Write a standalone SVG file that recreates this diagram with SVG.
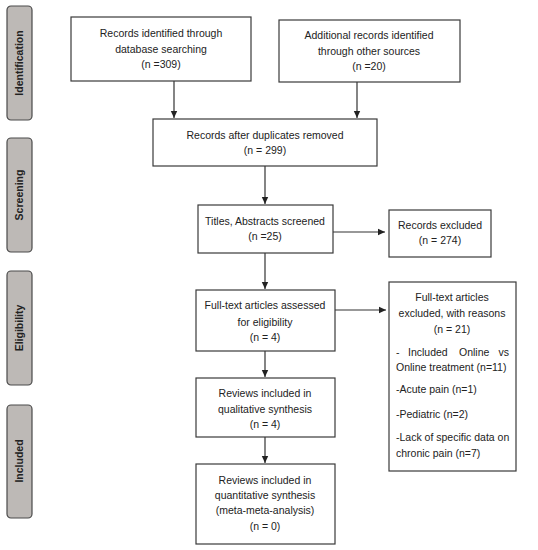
<svg xmlns="http://www.w3.org/2000/svg" width="538" height="550" viewBox="0 0 538 550">
<defs>
<style>
.box{fill:#fff;stroke:#3a3a3a;stroke-width:1.2}
.side{fill:#bdb9b6;stroke:#4a4a4a;stroke-width:1.2}
.t{font-family:"Liberation Sans",Arial,sans-serif;font-size:10.5px;fill:#222;text-anchor:middle}
.l{font-family:"Liberation Sans",Arial,sans-serif;font-size:10.5px;fill:#222}
.s{font-family:"Liberation Sans",Arial,sans-serif;font-size:10.5px;font-weight:bold;fill:#222;text-anchor:middle}
.c{stroke:#333;stroke-width:1.2;fill:none;marker-end:url(#ah)}
</style>
<marker id="ah" markerWidth="8" markerHeight="8" refX="7" refY="4" orient="auto" markerUnits="userSpaceOnUse">
<path d="M0,0.8 L7,4 L0,7.2 Z" fill="#222"/>
</marker>
</defs>
<rect width="538" height="550" fill="#fff"/>
<g id="phase-identification"><rect class="side" x="7" y="6" width="25" height="114" rx="4"/><text class="s" transform="translate(23,63) rotate(-90)">Identification</text></g>
<g id="phase-screening"><rect class="side" x="7" y="138" width="25" height="114" rx="4"/><text class="s" transform="translate(23,195) rotate(-90)">Screening</text></g>
<g id="phase-eligibility"><rect class="side" x="7" y="271" width="25" height="114" rx="4"/><text class="s" transform="translate(23,328) rotate(-90)">Eligibility</text></g>
<g id="phase-included"><rect class="side" x="7" y="405" width="25" height="113" rx="4"/><text class="s" transform="translate(23,461) rotate(-90)">Included</text></g>

<g id="connectors">
<path class="c" d="M174,81 V118"/>
<path class="c" d="M357,82 V118"/>
<path class="c" d="M265,166 V204"/>
<path class="c" d="M333,232 H385"/>
<path class="c" d="M265,253 V289"/>
<path class="c" d="M335,310 H386"/>
<path class="c" d="M265,351 V377"/>
<path class="c" d="M265,437 V463"/>
</g>

<g id="n1"><rect class="box" x="71" y="17" width="180" height="64"/>
<text class="t" x="161" y="37">Records identified through</text>
<text class="t" x="161" y="53">database searching</text>
<text class="t" x="161" y="68">(n =309)</text></g>
<g id="n2"><rect class="box" x="279" y="20" width="181" height="62"/>
<text class="t" x="369" y="39">Additional records identified</text>
<text class="t" x="369" y="55">through other sources</text>
<text class="t" x="369" y="70">(n =20)</text></g>
<g id="n3"><rect class="box" x="153" y="119" width="224" height="47"/>
<text class="t" x="265" y="139">Records after duplicates removed</text>
<text class="t" x="265" y="154">(n = 299)</text></g>
<g id="n4"><rect class="box" x="198" y="205" width="135" height="48"/>
<text class="t" x="265" y="225">Titles, Abstracts screened</text>
<text class="t" x="265" y="240">(n =25)</text></g>
<g id="n5"><rect class="box" x="389" y="210" width="102" height="47"/>
<text class="t" x="440" y="229">Records excluded</text>
<text class="t" x="440" y="244">(n = 274)</text></g>
<g id="n6"><rect class="box" x="196" y="290" width="139" height="61"/>
<text class="t" x="265" y="309">Full-text articles assessed</text>
<text class="t" x="265" y="326">for eligibility</text>
<text class="t" x="265" y="341">(n = 4)</text></g>
<g id="n7"><rect class="box" x="389" y="282" width="127" height="189"/>
<text class="t" x="452" y="301">Full-text articles</text>
<text class="t" x="452" y="317">excluded, with reasons</text>
<text class="t" x="452" y="333">(n = 21)</text>
<text class="l" x="396" y="356">-</text>
<text class="l" x="408" y="356">Included</text>
<text class="l" x="459" y="356">Online</text>
<text class="l" x="509" y="356" text-anchor="end">vs</text>
<text class="l" x="396" y="371">Online treatment (n=11)</text>
<text class="l" x="396" y="393">-Acute pain (n=1)</text>
<text class="l" x="396" y="418">-Pediatric (n=2)</text>
<text class="l" x="396" y="441">-Lack of specific data on</text>
<text class="l" x="396" y="457">chronic pain (n=7)</text></g>
<g id="n8"><rect class="box" x="196" y="378" width="139" height="59"/>
<text class="t" x="265" y="397">Reviews included in</text>
<text class="t" x="265" y="413">qualitative synthesis</text>
<text class="t" x="265" y="428">(n = 4)</text></g>
<g id="n9"><rect class="box" x="196" y="464" width="139" height="80"/>
<text class="t" x="265" y="484">Reviews included in</text>
<text class="t" x="265" y="499">quantitative synthesis</text>
<text class="t" x="265" y="514">(meta-meta-analysis)</text>
<text class="t" x="265" y="530">(n = 0)</text></g>
</svg>
